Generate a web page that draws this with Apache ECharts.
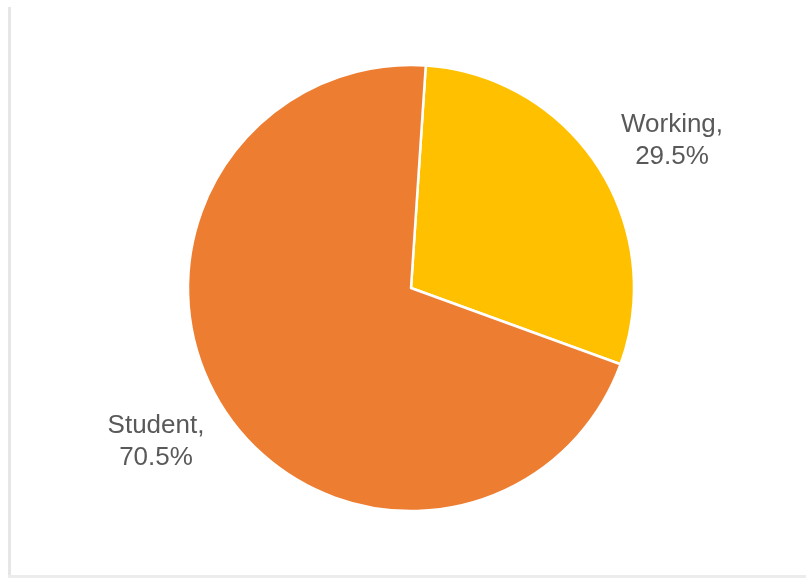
<!DOCTYPE html>
<html>
<head>
<meta charset="utf-8">
<script src="https://cdn.jsdelivr.net/npm/echarts@6/dist/echarts.min.js"></script>
<style>
  html, body { margin: 0; padding: 0; background: #fff; }
  #chart { width: 806px; height: 578px; }
</style>
</head>
<body>
<div id="chart"></div>
<script>
// Share of respondents by occupation
const categories = ['Working', 'Student'];
const shares = [29.5, 70.5];
const colors = ['#FFC000', '#ED7D31'];

// Where each slice label sits (label centre)
const labelSpots = [[672, 141], [156, 442]];

const chart = echarts.init(document.getElementById('chart'), null, { renderer: 'canvas' });

chart.setOption({
  animation: false,
  backgroundColor: '#ffffff',
  graphic: [
    { type: 'rect', shape: { x: 8, y: 7, width: 3, height: 571 }, style: { fill: '#e6e6e6' } },
    { type: 'rect', shape: { x: 8, y: 575, width: 798, height: 3 }, style: { fill: '#ececec' } }
  ],
  series: [{
    type: 'pie',
    center: [411, 288],
    radius: [0, 223],
    startAngle: 86.2,
    clockwise: true,
    itemStyle: { borderColor: '#ffffff', borderWidth: 2.5 },
    label: {
      show: true,
      position: 'outside',
      formatter: p => p.name + ',\n' + p.value.toFixed(1) + '%',
      fontFamily: 'Liberation Sans, Arial, sans-serif',
      fontSize: 26,
      lineHeight: 32,
      color: '#595959',
      align: 'center'
    },
    labelLine: { show: false },
    labelLayout: params => ({
      x: labelSpots[params.dataIndex][0],
      y: labelSpots[params.dataIndex][1],
      align: 'center',
      verticalAlign: 'middle'
    }),
    emphasis: { disabled: true },
    data: categories.map((c, i) => ({ name: c, value: shares[i], itemStyle: { color: colors[i] } }))
  }]
});
</script>
</body>
</html>
